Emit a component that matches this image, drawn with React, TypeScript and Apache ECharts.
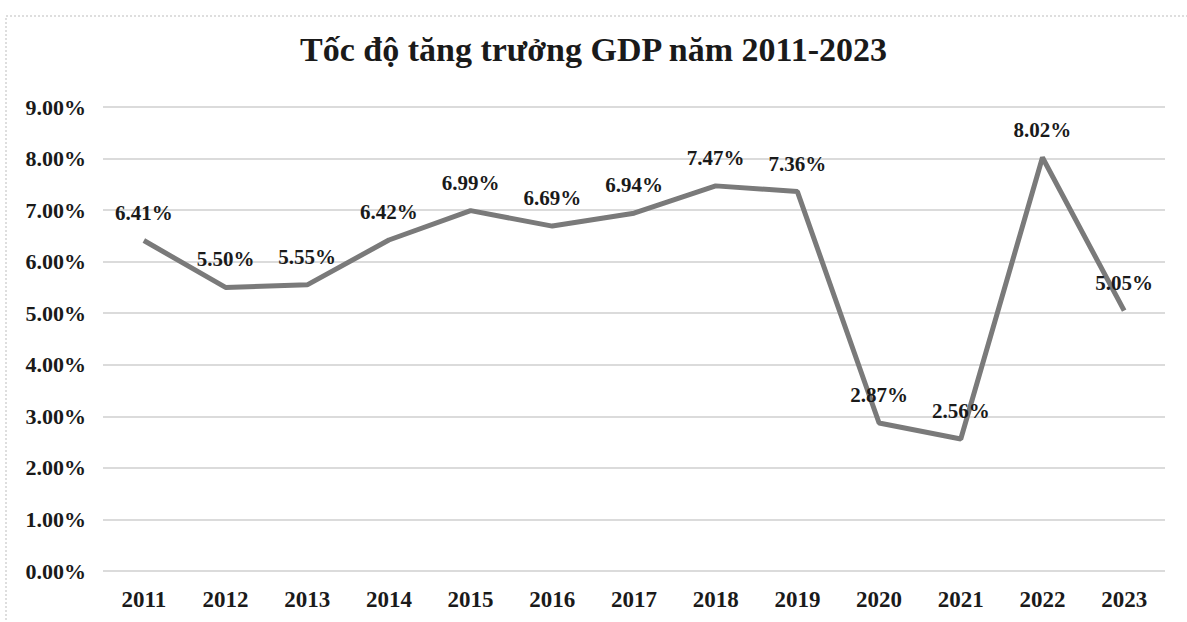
import React, { useEffect, useRef } from "react";
import * as echarts from "echarts";

const years = ["2011","2012","2013","2014","2015","2016","2017","2018","2019","2020","2021","2022","2023"];
const growth = [6.41, 5.5, 5.55, 6.42, 6.99, 6.69, 6.94, 7.47, 7.36, 2.87, 2.56, 8.02, 5.05];
const titleText = "Tốc độ tăng trưởng GDP năm 2011-2023";

export default function App() {
  const ref = useRef<HTMLDivElement>(null);
  useEffect(() => {
    if (!ref.current) return;
    const chart = echarts.init(ref.current, null, { renderer: "svg" });
    const font = "'Liberation Serif', 'Times New Roman', serif";
    chart.setOption({
      animation: false,
      backgroundColor: "#ffffff",
      title: {
        text: titleText,
        left: "center",
        top: 27,
        textStyle: { fontFamily: font, fontWeight: "bold", fontSize: 34, color: "#1a1a1a" },
      },
      grid: { left: 103, right: 22, top: 107, bottom: 51, containLabel: false },
      xAxis: {
        type: "category",
        data: years,
        boundaryGap: true,
        axisLine: { show: false },
        axisTick: { show: false },
        axisLabel: { fontFamily: font, fontWeight: "bold", fontSize: 23, color: "#1a1a1a", margin: 17 },
      },
      yAxis: {
        type: "value",
        min: 0,
        max: 9,
        interval: 1,
        axisLine: { show: false },
        axisTick: { show: false },
        splitLine: { lineStyle: { color: "#cfcfcf", width: 1.5 } },
        axisLabel: {
          fontFamily: font,
          fontWeight: "bold",
          fontSize: 22,
          color: "#1a1a1a",
          margin: 17,
          formatter: (v: number) => v.toFixed(2) + "%",
        },
      },
      series: [
        {
          type: "line",
          data: growth,
          symbol: "circle",
          symbolSize: 1,
          showSymbol: true,
          itemStyle: { color: "#7a7a7a", opacity: 0 },
          lineStyle: { color: "#7a7a7a", width: 5 },
          label: {
            show: true,
            position: "top",
            distance: 17,
            fontFamily: font,
            fontWeight: "bold",
            fontSize: 21,
            color: "#1a1a1a",
            opacity: 1,
            formatter: (p: any) => p.value.toFixed(2) + "%",
          },
        },
      ],
      graphic: [
        {
          type: "rect",
          shape: { x: 6, y: 16, width: 1200, height: 620 },
          style: { fill: "none", stroke: "#bdbdbd", lineWidth: 1, lineDash: [2, 2] },
          silent: true,
        },
      ],
    });
    return () => chart.dispose();
  }, []);
  return <div ref={ref} style={{ width: 1187, height: 622, position: "absolute", left: 0, top: 0 }} />;
}
